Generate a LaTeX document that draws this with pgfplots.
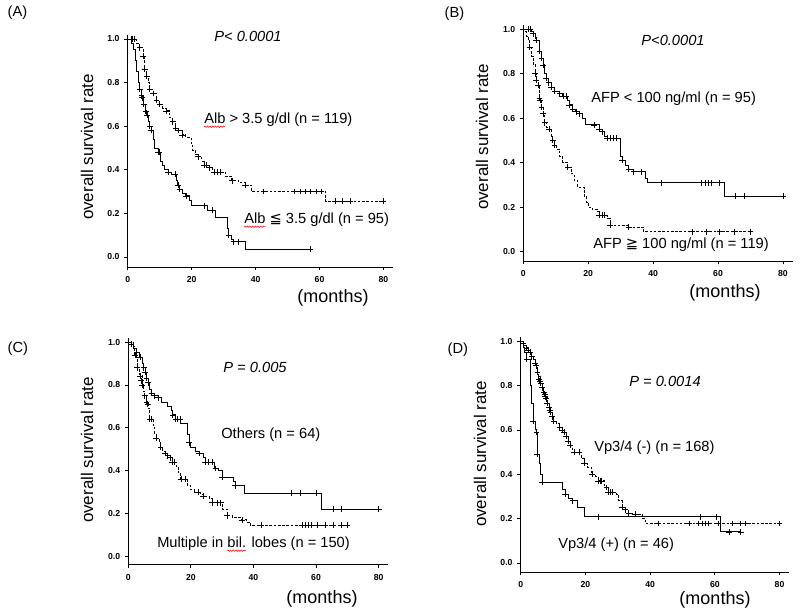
\documentclass[border=0pt]{standalone}
\usepackage{pgfplots}
\pgfplotsset{compat=1.18}
\usetikzlibrary{decorations.pathmorphing}
\usepackage{fontspec}
\setmainfont{Liberation Sans}
\newfontfamily\dejavu{DejaVu Sans}

\pgfplotsset{
  km/.style={
    scale only axis,
    anchor=south west,
    xmin=0, xmax=83,
    ymax=1.02,
    axis x line*=bottom, axis y line*=left,
    axis line style={-, line width=0.7pt},
    xtick={0,20,40,60,80},
    ytick={0,0.2,0.4,0.6,0.8,1.0},
    tick align=outside,
    major tick length=2.6pt,
    tick style={line width=0.6pt, black},
    yticklabel style={/pgf/number format/fixed, /pgf/number format/fixed zerofill, /pgf/number format/precision=1},
    /pgf/number format/assume math mode=true,
    ticklabel style={font=\fontsize{6.5}{7}\selectfont\bfseries},
    xticklabel style={yshift=-1pt},
    clip=false,
  },
  step/.style={const plot, no marks, line width=0.65pt, black},
  dstep/.style={const plot, no marks, line width=0.65pt, black, dash pattern=on 2pt off 1.2pt},
  cens/.style={only marks, mark=+, mark size=2.2pt, mark options={line width=0.55pt, black, solid}},
}
\tikzset{squig/.style={red, line width=0.4pt, decorate, decoration={snake, amplitude=0.5pt, segment length=2pt}}}

\newcommand\lab[1]{\fontsize{11}{13}\selectfont #1}
\newlength\wAlb \newlength\wMul \newlength\wBil

\begin{document}%
\settowidth\wAlb{\lab{Alb}}%
\settowidth\wMul{\lab{Multiple in }}%
\settowidth\wBil{\lab{bil.}}%
\begin{tikzpicture}[x=0.75pt, y=0.75pt]
\path[use as bounding box] (0,0) rectangle (800,614);

% (A) albumin
\begin{axis}[km, at={(95.78pt,260.25pt)}, width=199pt, height=174.3pt, ymin=-0.046]
\addplot[dstep] coordinates {
 (0,1) (2.8,0.98) (3.8,0.96) (4.8,0.92) (5.3,0.86) (5.9,0.83) (6.4,0.80) (6.9,0.77) (7.9,0.75)
 (9,0.72) (10,0.70) (11,0.68) (12,0.67) (13,0.64) (14,0.62) (15,0.59) (16,0.58) (17,0.56)
 (18.2,0.55) (19.8,0.52) (20.3,0.49) (21.3,0.47) (22,0.46) (23.2,0.44) (24,0.42) (25.4,0.41)
 (26.5,0.39) (30.6,0.37) (32.6,0.35) (34.7,0.34) (36.8,0.33) (38.8,0.30) (62,0.255) (80,0.255)
};
\addplot[cens] coordinates {
 (1,1) (1.5,1) (2,1) (3.8,0.96) (4.8,0.92) (5.3,0.86) (5.9,0.83) (6.9,0.77) (7.9,0.75) (9,0.72)
 (10,0.70) (12,0.67) (14,0.62) (15,0.59) (16,0.58) (17,0.56) (22,0.46) (24,0.42) (24.6,0.42)
 (25.4,0.41) (27,0.39) (28,0.39) (29,0.39) (32.6,0.35) (36.8,0.33) (42.5,0.30) (52,0.30) (54,0.30)
 (55.5,0.30) (57,0.30) (59,0.30) (60.5,0.30) (65,0.255) (67,0.255) (69.5,0.255) (80,0.255)
};
\addplot[step] coordinates {
 (0,1) (1.2,0.98) (1.7,0.95) (2.3,0.90) (2.8,0.85) (3.3,0.80) (3.8,0.77) (4.3,0.74) (4.8,0.72)
 (5,0.70) (5.6,0.67) (6,0.65) (6.6,0.62) (6.9,0.60) (7.4,0.58) (8.1,0.54) (8.4,0.50) (9.5,0.48)
 (10.2,0.44) (11,0.42) (11.5,0.40) (12.6,0.39) (13.6,0.38) (15.1,0.35) (15.7,0.33) (16.2,0.31)
 (17.2,0.29) (18.2,0.28) (19.3,0.26) (19.8,0.235) (24.9,0.215) (27.3,0.18) (31.1,0.13) (31.6,0.10)
 (32.6,0.08) (33.2,0.07) (36.8,0.035) (57,0.035)
};
\addplot[cens] coordinates {
 (3.8,0.77) (4.3,0.74) (4.6,0.73) (5,0.70) (5.6,0.67) (6,0.65) (6.9,0.60) (7.4,0.58) (9.5,0.48)
 (9.9,0.48) (12.6,0.39) (14.9,0.38) (15.7,0.33) (16.2,0.31) (18.2,0.28) (24,0.235) (26.5,0.215)
 (31.6,0.10) (33.2,0.07) (34.7,0.07) (57,0.035)
};
\end{axis}

% (B) AFP
\begin{axis}[km, at={(392.48pt,264.75pt)}, width=202pt, height=177.1pt, ymin=-0.042]
\addplot[step] coordinates {
 (0,1) (2.5,0.99) (3,0.98) (3.6,0.96) (4,0.95) (4.9,0.92) (5,0.90) (5.6,0.87) (6.1,0.84) (6.6,0.80)
 (7.1,0.78) (7.8,0.76) (8.6,0.74) (9.6,0.72) (11.2,0.71) (12.2,0.70) (13.7,0.68) (14.2,0.66)
 (15.2,0.64) (16.2,0.63) (17.3,0.62) (18.3,0.60) (19.1,0.57) (23.4,0.55) (24.4,0.54) (24.9,0.52)
 (25.9,0.51) (30,0.43) (30.5,0.41) (31.5,0.39) (32.5,0.37) (34,0.36) (37.6,0.33) (38.4,0.31)
 (62,0.25) (80,0.25)
};
\addplot[cens] coordinates {
 (1.5,1) (2.2,1) (3,0.98) (4,0.95) (5,0.90) (5.6,0.87) (6.1,0.84) (7.1,0.78) (7.8,0.76) (8.6,0.74)
 (9.6,0.72) (11.2,0.71) (12.2,0.70) (13.2,0.70) (14.2,0.66) (15.2,0.64) (16.2,0.63) (17.3,0.62)
 (21.8,0.57) (23.4,0.55) (24.4,0.54) (25.9,0.51) (26.8,0.51) (27.8,0.51) (28.8,0.51) (30.5,0.41)
 (32.5,0.37) (34,0.36) (36.5,0.36) (42.5,0.31) (55,0.31) (56,0.31) (57,0.31) (58,0.31) (60.5,0.31)
 (65.5,0.25) (68,0.25) (80,0.25)
};
\addplot[dstep] coordinates {
 (0,1) (0.5,0.99) (1,0.97) (1.5,0.95) (2,0.92) (2.5,0.88) (3,0.84) (3.6,0.80) (4,0.77) (4.6,0.75)
 (4.9,0.72) (5,0.69) (5.6,0.65) (6.1,0.62) (6.6,0.58) (7.1,0.56) (7.9,0.55) (8.6,0.52) (9.1,0.50)
 (9.6,0.48) (10.2,0.46) (11.2,0.43) (12.2,0.40) (13.7,0.38) (14.7,0.35) (15.7,0.32) (16.8,0.29)
 (18.8,0.25) (19.5,0.22) (20.1,0.20) (21.3,0.19) (22.8,0.18) (23.4,0.165) (25.9,0.15) (26.7,0.12)
 (32.5,0.11) (37,0.09) (70,0.09)
};
\addplot[cens] coordinates {
 (2,0.92) (3.6,0.80) (4,0.77) (4.6,0.75) (5,0.69) (5.2,0.68) (5.6,0.65) (6.1,0.62) (6.6,0.58)
 (7.9,0.55) (9.1,0.50) (9.6,0.48) (13.7,0.38) (23.4,0.165) (24.4,0.165) (25,0.165) (26.7,0.12)
 (32.5,0.11) (52,0.09) (56.5,0.09) (60.5,0.09) (65,0.09) (70,0.09)
};
\end{axis}

% (C) tumour distribution
\begin{axis}[km, at={(96.23pt,36.98pt)}, width=194.8pt, height=170.2pt, ymin=-0.039]
\addplot[step] coordinates {
 (0,1) (1,0.99) (1.6,0.97) (2.6,0.95) (3.7,0.93) (4.5,0.90) (4.9,0.88) (5.4,0.86) (5.8,0.83)
 (6.3,0.81) (6.8,0.78) (7.4,0.76) (8.4,0.75) (9.5,0.74) (10.5,0.72) (12.6,0.70) (13.7,0.68)
 (14.2,0.66) (15.1,0.64) (16.8,0.62) (18.9,0.57) (19.5,0.53) (20,0.51) (21.6,0.49) (22.6,0.48)
 (23.9,0.46) (24.7,0.44) (27.4,0.41) (28.9,0.40) (30,0.37) (33.7,0.35) (34.2,0.33) (37.2,0.295)
 (61.7,0.22) (80,0.22)
};
\addplot[cens] coordinates {
 (1,0.99) (2.6,0.95) (3.7,0.93) (4.9,0.88) (5.4,0.86) (5.8,0.83) (6.3,0.81) (7.4,0.76) (8.4,0.75)
 (9.5,0.74) (14.2,0.66) (15.1,0.64) (15.8,0.64) (16.5,0.64) (19.5,0.53) (22.6,0.48) (24.5,0.44)
 (25.5,0.44) (26.8,0.44) (27.9,0.41) (30,0.37) (34.2,0.33) (52,0.295) (55,0.295) (60,0.295)
 (65.5,0.22) (68,0.22) (80,0.22)
};
\addplot[dstep] coordinates {
 (0,1) (1.6,0.98) (2.1,0.94) (2.6,0.92) (2.8,0.88) (3.7,0.85) (4.5,0.80) (4.9,0.77) (5.2,0.75)
 (5.8,0.72) (6.3,0.69) (6.8,0.64) (7.9,0.61) (8.4,0.57) (8.9,0.55) (9.8,0.53) (10.3,0.51) (11,0.49)
 (11.8,0.48) (12.6,0.47) (13.4,0.46) (14,0.44) (15.3,0.42) (16,0.39) (16.8,0.36) (18.9,0.33)
 (20,0.31) (21,0.30) (23.2,0.29) (23.9,0.28) (25.8,0.27) (26.8,0.25) (30,0.22) (31.6,0.19)
 (33.2,0.18) (36.3,0.17) (37.9,0.16) (38.9,0.145) (70,0.145)
};
\addplot[cens] coordinates {
 (2.1,0.94) (2.8,0.88) (3.7,0.84) (4.1,0.82) (4.5,0.80) (5.2,0.75) (5.8,0.72) (6.2,0.71) (6.8,0.64)
 (7.3,0.64) (8.9,0.55) (10.3,0.51) (11.8,0.48) (12.6,0.47) (13.4,0.46) (14,0.44) (14.7,0.44)
 (16.8,0.36) (18.2,0.36) (22.3,0.30) (23.9,0.28) (26.8,0.25) (28.4,0.25) (29.5,0.25) (31.6,0.19)
 (36.3,0.17) (42.5,0.145) (55.5,0.145) (56.5,0.145) (57.5,0.145) (58.5,0.145) (60.5,0.145)
 (63,0.145) (65.5,0.145) (68,0.145) (70,0.145)
};
\end{axis}

% (D) portal vein invasion
\begin{axis}[km, at={(390.53pt,31.5pt)}, width=201.4pt, height=176.4pt, ymin=-0.041]
\addplot[dstep] coordinates {
 (0,1) (0.8,0.99) (1.3,0.98) (1.8,0.97) (2.3,0.96) (2.9,0.95) (3.4,0.93) (3.9,0.92) (4.4,0.90)
 (4.9,0.88) (5.2,0.86) (5.6,0.84) (6.2,0.81) (6.7,0.79) (7.1,0.77) (7.6,0.75) (8.2,0.72) (8.8,0.70)
 (9.2,0.68) (9.7,0.66) (10.2,0.64) (11,0.63) (12,0.61) (12.8,0.60) (13.5,0.59) (14,0.57) (14.7,0.55)
 (15.3,0.53) (15.9,0.51) (16.6,0.50) (18.9,0.47) (19.6,0.45) (20.7,0.43) (22,0.40) (23.2,0.39)
 (24,0.37) (25.8,0.35) (26.5,0.34) (27.1,0.32) (29.5,0.31) (30.3,0.28) (31.3,0.25) (32.4,0.24)
 (33.4,0.225) (35.4,0.22) (37.5,0.20) (38.5,0.178) (80,0.178)
};
\addplot[cens] coordinates {
 (0.8,0.99) (1.8,0.97) (2.3,0.96) (2.9,0.95) (3.4,0.93) (4.4,0.90) (4.7,0.89) (5.2,0.86) (5.6,0.83)
 (5.9,0.82) (6.2,0.81) (6.7,0.79) (7.1,0.77) (7.4,0.76) (7.6,0.75) (7.9,0.74) (8.2,0.72) (8.8,0.70)
 (9,0.69) (9.2,0.68) (9.7,0.66) (10.2,0.64) (12,0.61) (12.8,0.60) (13.5,0.59) (14,0.57) (14.7,0.55)
 (15.3,0.53) (16.6,0.50) (18.1,0.50) (19.6,0.45) (22,0.40) (24,0.37) (24.5,0.37) (25,0.37)
 (26.5,0.34) (27.1,0.32) (27.6,0.32) (28.3,0.32) (31.3,0.25) (32.4,0.24) (33.4,0.225) (35.4,0.22)
 (42.5,0.178) (52,0.178) (55,0.178) (56,0.178) (57,0.178) (58,0.178) (61,0.178) (65.5,0.178)
 (68,0.178) (69.5,0.178) (80,0.178)
};
\addplot[step] coordinates {
 (0,1) (0.8,0.97) (1.3,0.95) (1.8,0.92) (2.9,0.80) (3.4,0.72) (3.9,0.64) (4.4,0.60) (4.9,0.59)
 (5.1,0.49) (5.7,0.45) (6.1,0.40) (6.7,0.365) (13,0.33) (13.7,0.31) (14.9,0.29) (16.1,0.28)
 (17.6,0.25) (19.6,0.208) (61.7,0.14) (68,0.14)
};
\addplot[cens] coordinates {
 (1.8,0.92) (3.9,0.64) (4.9,0.59) (5.1,0.49) (6.7,0.365) (13.7,0.31) (16.1,0.28) (24,0.208)
 (55.5,0.208) (60.5,0.208) (64.5,0.14) (68,0.14)
};
\end{axis}

% panel letters
\node[anchor=west, font=\fontsize{11}{13}\selectfont] at (3,601) {(A)};
\node[anchor=west, font=\fontsize{11}{13}\selectfont] at (440,600) {(B)};
\node[anchor=west, font=\fontsize{11}{13}\selectfont] at (3,265) {(C)};
\node[anchor=west, font=\fontsize{11}{13}\selectfont] at (443,264) {(D)};

% p values
\node[font=\fontsize{11}{13}\selectfont\itshape] at (248,578) {P< 0.0001};
\node[font=\fontsize{11}{13}\selectfont\itshape] at (673,574) {P<0.0001};
\node[font=\fontsize{11}{13}\selectfont\itshape] at (255,247) {P = 0.005};
\node[font=\fontsize{11}{13}\selectfont\itshape] at (665,233) {P = 0.0014};

% group labels
\node[anchor=west, inner sep=0pt] (la1) at (204,494) {\lab{Alb > 3.5 g/dl (n = 119)}};
\node[anchor=west, inner sep=0pt] (la2) at (244,394) {\lab{Alb {\dejavu ≦} 3.5 g/dl (n = 95)}};
\node[anchor=west, inner sep=0pt] at (591,515) {\lab{AFP < 100 ng/ml (n = 95)}};
\node[anchor=west, inner sep=0pt] at (593,369) {\lab{AFP {\dejavu ≧} 100 ng/ml (n = 119)}};
\node[anchor=west, inner sep=0pt] at (221,179) {\lab{Others (n = 64)}};
\node[anchor=west, inner sep=0pt] (lc2) at (157,70) {\lab{Multiple in bil. lobes (n = 150)}};
\node[anchor=west, inner sep=0pt] at (594,166) {\lab{Vp3/4 (-) (n = 168)}};
\node[anchor=west, inner sep=0pt] at (558,69) {\lab{Vp3/4 (+) (n = 46)}};
% spell-check underlines
\draw[squig] ([yshift=-2.2pt]la1.base west) -- ++(\wAlb,0);
\draw[squig] ([yshift=-2.2pt]la2.base west) -- ++(\wAlb,0);
\draw[squig] ([xshift=\wMul, yshift=-2.2pt]lc2.base west) -- ++(\wBil,0);

% axis titles
\foreach \x/\y in {87/467, 482/477, 87/164, 480/160}
  \node[rotate=90, font=\fontsize{12.7}{15}\selectfont] at (\x,\y) {overall survival rate};
\foreach \x/\y in {333/316, 725/321, 322/15, 715/14}
  \node[font=\fontsize{13.5}{16}\selectfont] at (\x,\y) {(months)};
\end{tikzpicture}%
\end{document}
